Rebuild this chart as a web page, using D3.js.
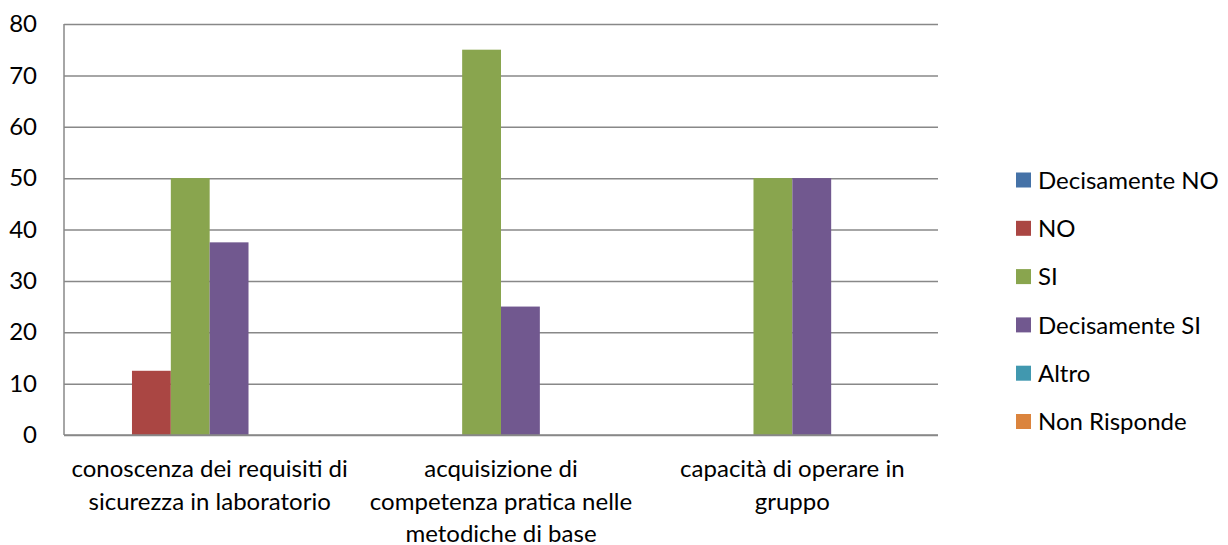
<!DOCTYPE html>
<html>
<head>
<meta charset="utf-8">
<script src="https://cdn.jsdelivr.net/npm/d3@7/dist/d3.min.js"></script>
<style>
  html, body { margin: 0; padding: 0; background: #fff; }
  svg { display: block; }
  text { font-family: Lato, "Open Sans", sans-serif; fill: #000; }
</style>
</head>
<body>
<svg id="chart" width="1228" height="545"></svg>
<script>
const categories = [
  ["conoscenza dei requisiti di", "sicurezza in laboratorio"],
  ["acquisizione di", "competenza pratica nelle", "metodiche di base"],
  ["capacità di operare in", "gruppo"]
];
const seriesNames = ["Decisamente NO", "NO", "SI", "Decisamente SI", "Altro", "Non Risponde"];
const seriesColors = ["#4572A7", "#AA4643", "#89A54E", "#71588F", "#4198AF", "#DB843D"];
const decisamenteNO = [0, 0, 0];
const no = [12.5, 0, 0];
const si = [50, 75, 50];
const decisamenteSI = [37.5, 25, 50];
const altro = [0, 0, 0];
const nonRisponde = [0, 0, 0];
const yTicks = [0, 10, 20, 30, 40, 50, 60, 70, 80];

const seriesValues = [decisamenteNO, no, si, decisamenteSI, altro, nonRisponde];

const svg = d3.select("#chart");
const mLeft = 64, mRight = 938, mTop = 24, mBottom = 435;
const fontSize = 24;

const x0 = d3.scaleBand().domain(d3.range(categories.length)).range([mLeft, mRight]).paddingInner(0).paddingOuter(0);
// gap width 150%: 6 bars + 1.5 bar gap per category
const bw = x0.bandwidth() / (seriesNames.length + 1.5);
const x1 = d3.scaleBand().domain(d3.range(seriesNames.length))
  .range([bw * 0.75, x0.bandwidth() - bw * 0.75]).padding(0);
const y = d3.scaleLinear().domain([0, 80]).range([mBottom, mTop]);

// gridlines
const yAxis = d3.axisLeft(y).tickValues(yTicks).tickSize(-(mRight - mLeft)).tickPadding(27);
const gAxis = svg.append("g").attr("transform", `translate(${mLeft},0)`).call(yAxis);
gAxis.select(".domain").remove();
gAxis.selectAll(".tick line").attr("stroke", "#888").attr("stroke-width", 1.5);
gAxis.selectAll(".tick text").attr("font-size", fontSize).attr("fill", "#000")
  .style("font-family", "Lato, sans-serif");

// bars
seriesValues.forEach((vals, si_) => {
  svg.append("g").selectAll("rect").data(vals).join("rect")
    .attr("x", (d, i) => x0(i) + x1(si_))
    .attr("width", x1.bandwidth())
    .attr("y", d => y(d))
    .attr("height", d => y(0) - y(d))
    .attr("fill", seriesColors[si_]);
});

// axes lines
svg.append("line").attr("x1", mLeft).attr("x2", mLeft).attr("y1", mTop).attr("y2", mBottom)
  .attr("stroke", "#888").attr("stroke-width", 1.5);
svg.append("line").attr("x1", mLeft).attr("x2", mRight).attr("y1", mBottom).attr("y2", mBottom)
  .attr("stroke", "#888").attr("stroke-width", 1.5);

// category labels
categories.forEach((lines, i) => {
  const cx = x0(i) + x0.bandwidth() / 2;
  const t = svg.append("text")
    .attr("x", cx)
    .attr("y", 477)
    .attr("text-anchor", "middle")
    .attr("font-size", fontSize);
  lines.forEach((l, j) => {
    t.append("tspan").attr("x", cx).attr("dy", j === 0 ? 0 : 32.5).text(l);
  });
});

// legend
const legend = svg.append("g");
seriesNames.forEach((n, i) => {
  const cy = 180 + i * 48.3;
  legend.append("rect").attr("x", 1016).attr("y", cy - 7.5).attr("width", 15).attr("height", 15)
    .attr("fill", seriesColors[i]);
  legend.append("text").attr("x", 1038).attr("y", cy).attr("dy", "0.36em")
    .attr("font-size", fontSize).text(n);
});
</script>
</body>
</html>
